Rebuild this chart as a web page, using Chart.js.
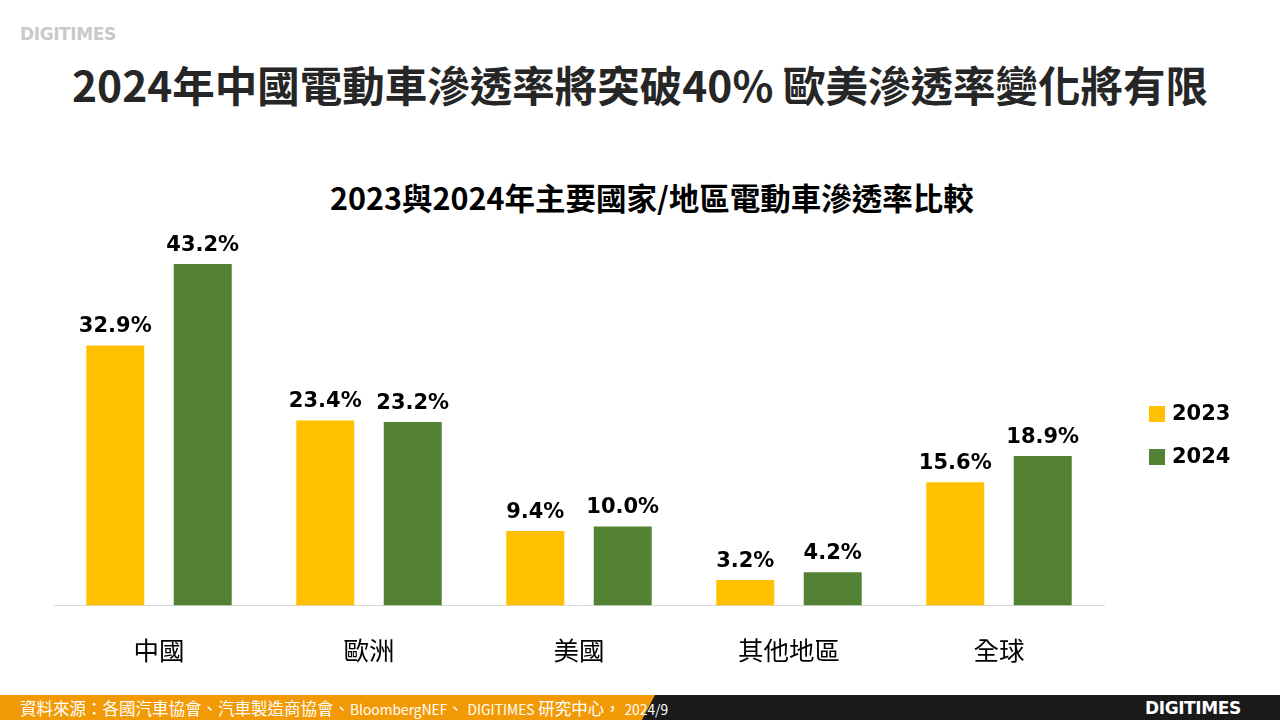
<!DOCTYPE html>
<html>
<head>
<meta charset="utf-8">
<script src="https://cdn.jsdelivr.net/npm/chart.js@4.4.1/dist/chart.umd.min.js"></script>
<style>
    html, body { margin: 0; padding: 0; background: #fff; }
    body { width: 1280px; height: 720px; position: relative; overflow: hidden; font-family: "Noto Sans CJK TC", "Noto Sans", sans-serif; }
    .logo { position: absolute; font-family: "DejaVu Sans", sans-serif; font-weight: bold; font-size: 17px; letter-spacing: -0.4px; }
    #logo-top { left: 20px; top: 24px; color: #c9c9c9; }
    #main-title { position: absolute; left: 0; top: 53px; width: 1280px; text-align: center; font-size: 42.5px; font-weight: bold; color: #262626; white-space: nowrap; }
    #chart-title { position: absolute; left: 24px; top: 177px; width: 1256px; text-align: center; font-size: 30.5px; font-weight: bold; color: #000; white-space: nowrap; line-height: 40px; }
    #chart-box { position: absolute; left: 0; top: 160px; width: 1280px; height: 538px; }
    #footer { position: absolute; left: 0; top: 695px; width: 1280px; height: 25px; background: #1a1a1a; }
    #footer-orange { position: absolute; left: 0; top: 0; width: 655px; height: 25px; background: #f29a06; clip-path: polygon(0 0, 100% 0, 98% 100%, 0 100%); }
    #footer-text { position: absolute; left: 20px; top: 1px; color: #fff; font-size: 16.5px; white-space: nowrap; }
    #footer-text .lat { font-size: 13.8px; }
    #logo-bottom { left: 1145px; top: 698px; color: #fff; }
</style>
</head>
<body>
<div class="logo" id="logo-top">DIGITIMES</div>
<div id="main-title">2024年中國電動車滲透率將突破40% 歐美滲透率變化將有限</div>
<div id="chart-title">2023與2024年主要國家/地區電動車滲透率比較</div>
<div id="chart-box"><canvas id="ev-chart"></canvas></div>
<div id="footer">
    <div id="footer-orange"></div>
    <div id="footer-text">資料來源：各國汽車協會、汽車製造商協會、<span class="lat">BloombergNEF</span>、 <span class="lat">DIGITIMES</span> 研究中心， <span class="lat">2024/9</span></div>
</div>
<div class="logo" id="logo-bottom">DIGITIMES</div>

<script>
const REGIONS = ["中國", "歐洲", "美國", "其他地區", "全球"];
const SHARE_2023 = [32.9, 23.4, 9.4, 3.2, 15.6];
const SHARE_2024 = [43.2, 23.2, 10.0, 4.2, 18.9];
const SERIES_LABELS = ["2023", "2024"];

const COLOR_2023 = "#ffc000";
const COLOR_2024 = "#548235";

// values printed above each bar
const valueLabels = {
    id: "valueLabels",
    afterDatasetsDraw(chart) {
        const ctx = chart.ctx;
        ctx.save();
        ctx.font = "bold 21px 'DejaVu Sans'";
        ctx.fillStyle = "#000";
        ctx.textAlign = "center";
        ctx.textBaseline = "alphabetic";
        chart.data.datasets.forEach((ds, i) => {
            chart.getDatasetMeta(i).data.forEach((bar, j) => {
                ctx.fillText(ds.data[j].toFixed(1) + "%", bar.x, bar.y - 13);
            });
        });
        ctx.restore();
    },
};

// legend squares on the right side
const sideLegend = {
    id: "sideLegend",
    afterDraw(chart) {
        const ctx = chart.ctx;
        const x = 1149;
        const y0 = 414 - 160;
        ctx.save();
        ctx.font = "bold 21px 'DejaVu Sans'";
        ctx.textBaseline = "middle";
        ctx.textAlign = "left";
        chart.data.datasets.forEach((ds, i) => {
            const y = y0 + i * 43;
            ctx.fillStyle = ds.backgroundColor;
            ctx.fillRect(x, y - 8, 16, 16);
            ctx.fillStyle = "#000";
            ctx.fillText(ds.label, x + 23, y + 1);
        });
        ctx.restore();
    },
};

new Chart(document.getElementById("ev-chart"), {
    type: "bar",
    data: {
        labels: REGIONS,
        datasets: [
            { label: SERIES_LABELS[0], data: SHARE_2023, backgroundColor: COLOR_2023 },
            { label: SERIES_LABELS[1], data: SHARE_2024, backgroundColor: COLOR_2024 },
        ],
    },
    options: {
        responsive: true,
        maintainAspectRatio: false,
        animation: false,
        categoryPercentage: 0.833,
        barPercentage: 0.663,
        layout: { padding: { left: 54, right: 176, top: 65, bottom: 2 } },
        plugins: {
            legend: { display: false },
            tooltip: { enabled: false },
        },
        scales: {
            x: {
                grid: { display: false, drawTicks: false },
                border: { color: "#d9d9d9", width: 1 },
                ticks: {
                    color: "#000",
                    padding: 30,
                    font: { family: "'Noto Sans CJK TC'", size: 25.5 },
                },
            },
            y: {
                display: false,
                min: 0,
                max: 43.2 * (605 - 225) / (605 - 264),
            },
        },
    },
    plugins: [valueLabels, sideLegend],
});
</script>
</body>
</html>
